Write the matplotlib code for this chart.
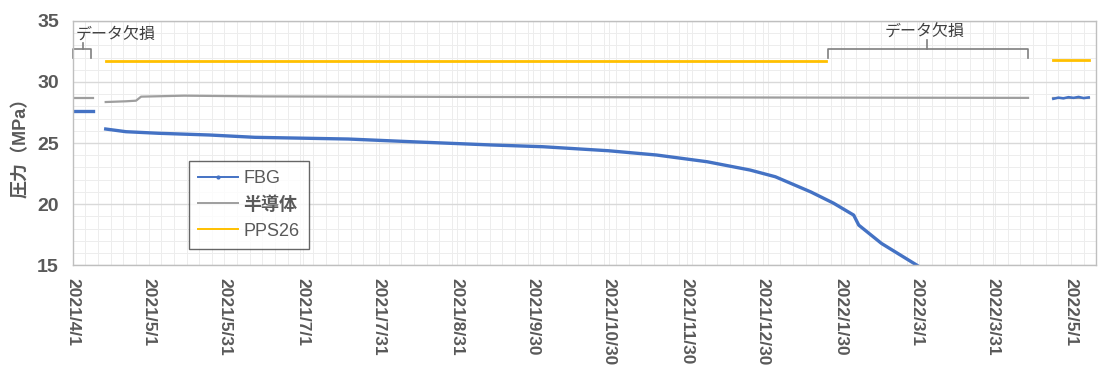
import matplotlib
matplotlib.use('Agg')
import matplotlib.pyplot as plt
import matplotlib.dates as mdates
import numpy as np
import pandas as pd

# --- DATA ---
fbg_dates_a = ['2021-04-01', '2021-04-09']
fbg_vals_a = [27.6, 27.6]
fbg_dates_b = ['2021-04-14', '2021-04-22', '2021-05-05', '2021-05-25', '2021-06-12',
               '2021-07-19', '2021-08-14', '2021-09-14', '2021-10-04', '2021-10-30',
               '2021-11-18', '2021-12-08', '2021-12-25', '2022-01-04', '2022-01-18',
               '2022-01-27', '2022-02-04', '2022-02-06', '2022-02-15', '2022-03-01',
               '2022-03-05']
fbg_vals_b = [26.15, 25.93, 25.8, 25.66, 25.47,
              25.33, 25.1, 24.84, 24.7, 24.37,
              24.02, 23.47, 22.79, 22.24, 21.0,
              20.08, 19.1, 18.28, 16.78, 15.0,
              14.4]
fbg_dates_c = ['2022-04-24', '2022-04-26', '2022-04-28', '2022-04-30', '2022-05-02',
               '2022-05-04', '2022-05-06', '2022-05-08']
fbg_vals_c = [28.62, 28.72, 28.66, 28.76, 28.7, 28.78, 28.68, 28.74]

semi_dates_a = ['2021-04-01', '2021-04-09']
semi_vals_a = [28.69, 28.69]
semi_dates_b = ['2021-04-14', '2021-04-22', '2021-04-26', '2021-04-28', '2021-05-15',
                '2021-06-15', '2021-09-01', '2021-12-01', '2022-02-01', '2022-04-14']
semi_vals_b = [28.36, 28.42, 28.47, 28.8, 28.88,
               28.82, 28.78, 28.74, 28.72, 28.7]
semi_dates_c = ['2022-04-24', '2022-05-08']
semi_vals_c = [28.7, 28.7]

pps_dates_b = ['2021-04-14', '2022-01-24']
pps_vals_b = [31.7, 31.7]
pps_dates_c = ['2022-04-24', '2022-05-08']
pps_vals_c = [31.78, 31.78]

tick_dates = ['2021-04-01', '2021-05-01', '2021-05-31', '2021-07-01', '2021-07-31',
              '2021-08-31', '2021-09-30', '2021-10-30', '2021-11-30', '2021-12-30',
              '2022-01-30', '2022-03-01', '2022-03-31', '2022-05-01']
tick_labels = ['2021/4/1', '2021/5/1', '2021/5/31', '2021/7/1', '2021/7/31',
               '2021/8/31', '2021/9/30', '2021/10/30', '2021/11/30', '2021/12/30',
               '2022/1/30', '2022/3/1', '2022/3/31', '2022/5/1']

# missing-data brackets: (start, centre, end)
gap_left = ['2021-04-01', '2021-04-05', '2021-04-08']
gap_right = ['2022-01-25', '2022-03-05', '2022-04-14']

# --- STYLE ---
plt.rcParams['font.family'] = ['Liberation Sans', 'Noto Sans CJK JP']
txt_col = '#595959'
c_fbg = '#4472C4'
c_semi = '#9E9E9E'
c_pps = '#FFC000'

d = pd.to_datetime

fig = plt.figure(figsize=(11.04, 3.74), dpi=100)
ax = fig.add_axes([0.066, 0.291, 0.927, 0.653])

# series
ax.plot(d(semi_dates_a), semi_vals_a, color=c_semi, lw=1.6)
ax.plot(d(semi_dates_b), semi_vals_b, color=c_semi, lw=1.6)
ax.plot(d(semi_dates_c), semi_vals_c, color=c_semi, lw=1.6)
ax.plot(d(pps_dates_b), pps_vals_b, color=c_pps, lw=2.0)
ax.plot(d(pps_dates_c), pps_vals_c, color=c_pps, lw=2.0)
ax.plot(d(fbg_dates_a), fbg_vals_a, color=c_fbg, lw=2.4)
ax.plot(d(fbg_dates_b), fbg_vals_b, color=c_fbg, lw=2.4)
ax.plot(d(fbg_dates_c), fbg_vals_c, color=c_fbg, lw=1.8)

# axes limits and ticks
x0 = d('2021-04-01')
ax.set_xlim(x0, d('2022-05-09'))
ax.set_ylim(15, 35)
ax.set_yticks([15, 20, 25, 30, 35])
ax.set_yticks(np.arange(15, 35, 1), minor=True)
ax.set_xticks(d(tick_dates))
ax.set_xticklabels(tick_labels, rotation=-90, fontsize=12.5, fontweight='bold', color=txt_col)
ax.set_xticks(mdates.date2num(x0) + np.arange(0, 410, 5), minor=True)
ax.tick_params(axis='x', which='both', length=0, pad=9)
ax.tick_params(axis='y', which='both', length=0, pad=10)
for t in ax.get_yticklabels():
    t.set_fontsize(14)
    t.set_fontweight('bold')
    t.set_color(txt_col)

ax.grid(True, which='minor', color='#EDEDED', lw=0.7)
ax.grid(True, which='major', axis='y', color='#D9D9D9', lw=1.0)
ax.grid(True, which='major', axis='x', color='#EDEDED', lw=0.7)
ax.set_axisbelow(True)
for s in ax.spines.values():
    s.set_color('#BFBFBF')
    s.set_linewidth(1.0)

ax.set_ylabel('圧力（MPa）', fontsize=13, color=txt_col, labelpad=5, fontweight='bold')

# missing-data brackets
def bracket(dates, y_top, y_leg, y_tip):
    a, m, b = d(dates)
    ax.plot([a, a, b, b], [y_leg, y_top, y_top, y_leg], color='#7F7F7F', lw=1.2, clip_on=False)
    ax.plot([m, m], [y_top, y_tip], color='#7F7F7F', lw=1.2, clip_on=False)

bracket(gap_left, 32.7, 32.0, 33.2)
ax.text(d(gap_left[0]) + pd.Timedelta(days=1), 33.85, 'データ欠損', fontsize=11.5,
        color='#404040', ha='left', va='center')
bracket(gap_right, 32.7, 32.0, 33.4)
ax.text(d(gap_right[1]) - pd.Timedelta(days=1), 34.05, 'データ欠損', fontsize=11.5,
        color='#404040', ha='center', va='center')

# legend
h_fbg, = ax.plot([], [], color=c_fbg, lw=1.4, marker='.', markersize=4)
h_semi, = ax.plot([], [], color=c_semi, lw=1.4)
h_pps, = ax.plot([], [], color=c_pps, lw=1.4)
leg = ax.legend([h_fbg, h_semi, h_pps], ['FBG', '半導体', 'PPS26'],
                loc='lower left', bbox_to_anchor=(0.105, 0.03), fontsize=13,
                frameon=True, fancybox=False, handlelength=2.2, handletextpad=0.3,
                labelspacing=0.5, borderpad=0.5, labelcolor=txt_col)
leg.get_frame().set_edgecolor('#404040')
leg.get_frame().set_linewidth(1.0)
leg.get_frame().set_facecolor('white')
for t in leg.get_texts():
    if t.get_text() == '半導体':
        t.set_fontweight('bold')

fig.savefig('out.png', dpi=100)
